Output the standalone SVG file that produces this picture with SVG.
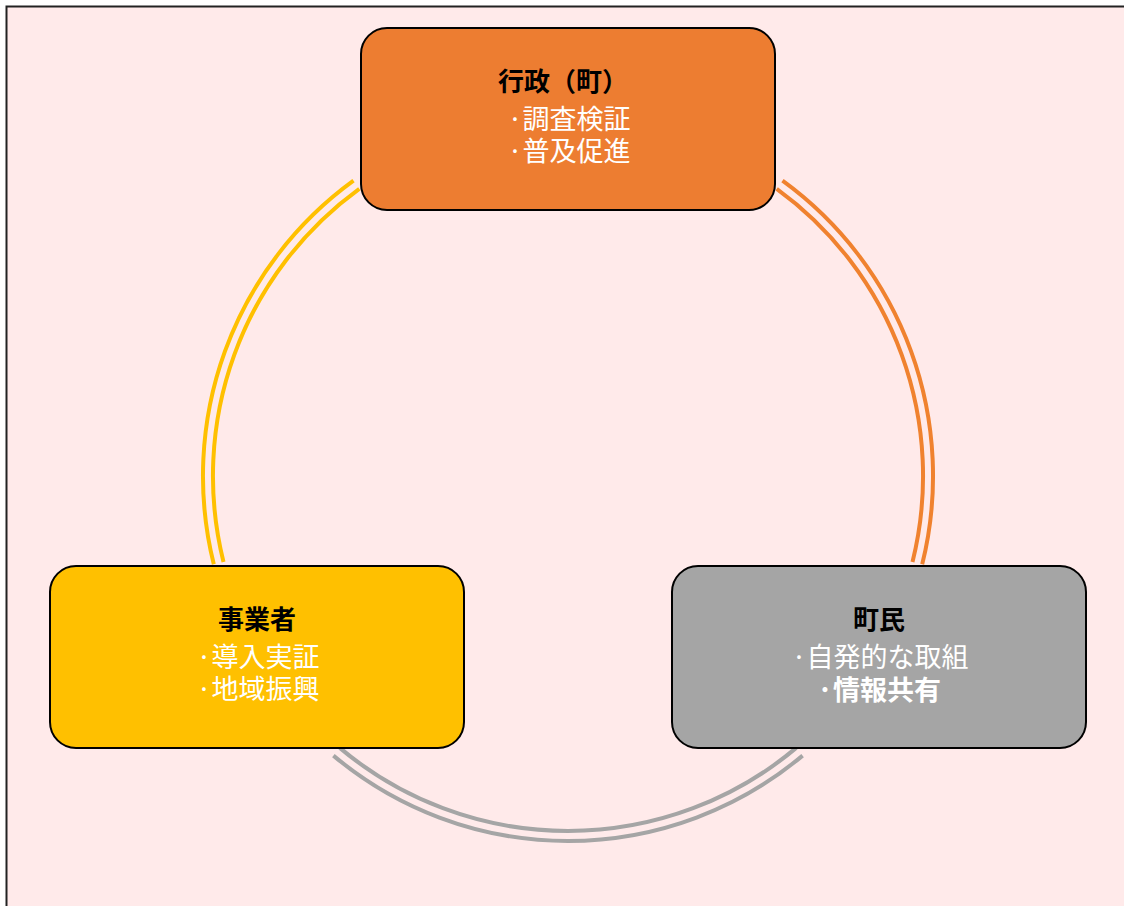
<svg xmlns="http://www.w3.org/2000/svg" width="1124" height="906" viewBox="0 0 1124 906">
<style>
.box{stroke:#000;stroke-width:2}
.t{font-family:"Noto Sans CJK JP","Noto Sans CJK SC",sans-serif;text-anchor:middle}
.title{font-size:26px;font-weight:bold;fill:#000}
.body{font-size:27px;fill:#fff}
.arc{fill:none;stroke-width:4}
</style>
<rect x="6.5" y="6.5" width="1130" height="910" fill="#FFEAEA" stroke="#222" stroke-width="2"/>
<g id="connectors">
<path class="arc" stroke="#F0822F" d="M782.5,180.7 A365,365 0 0 1 922.2,564.3"/>
<path class="arc" stroke="#F0822F" d="M776.7,188.8 A355,355 0 0 1 912.5,561.9"/>
<path class="arc" stroke="#A5A5A5" d="M802.6,755.6 A365,365 0 0 1 333.4,755.6"/>
<path class="arc" stroke="#A5A5A5" d="M796.2,747.9 A355,355 0 0 1 339.8,747.9"/>
<path class="arc" stroke="#FFC000" d="M213.8,564.3 A365,365 0 0 1 353.5,180.7"/>
<path class="arc" stroke="#FFC000" d="M223.5,561.9 A355,355 0 0 1 359.3,188.8"/>
</g>
<g id="gyosei">
<rect class="box" x="361" y="28" width="414" height="182" rx="26" fill="#ED7D31"/>
<text class="t title" x="563" y="91">行政（町）</text>
<text class="t body" x="569" y="129">·調査検証</text>
<text class="t body" x="569" y="161">·普及促進</text>
</g>
<g id="jigyosha">
<rect class="box" x="50" y="566" width="414" height="182" rx="26" fill="#FFC000"/>
<text class="t title" x="257" y="629">事業者</text>
<text class="t body" x="258" y="667">·導入実証</text>
<text class="t body" x="258" y="699">·地域振興</text>
</g>
<g id="chomin">
<rect class="box" x="672" y="566" width="414" height="182" rx="26" fill="#A5A5A5"/>
<text class="t title" x="879" y="629">町民</text>
<text class="t body" x="880" y="667">·自発的な取組</text>
<text class="t body" x="879" y="700" font-weight="bold">·情報共有</text>
</g>
</svg>
